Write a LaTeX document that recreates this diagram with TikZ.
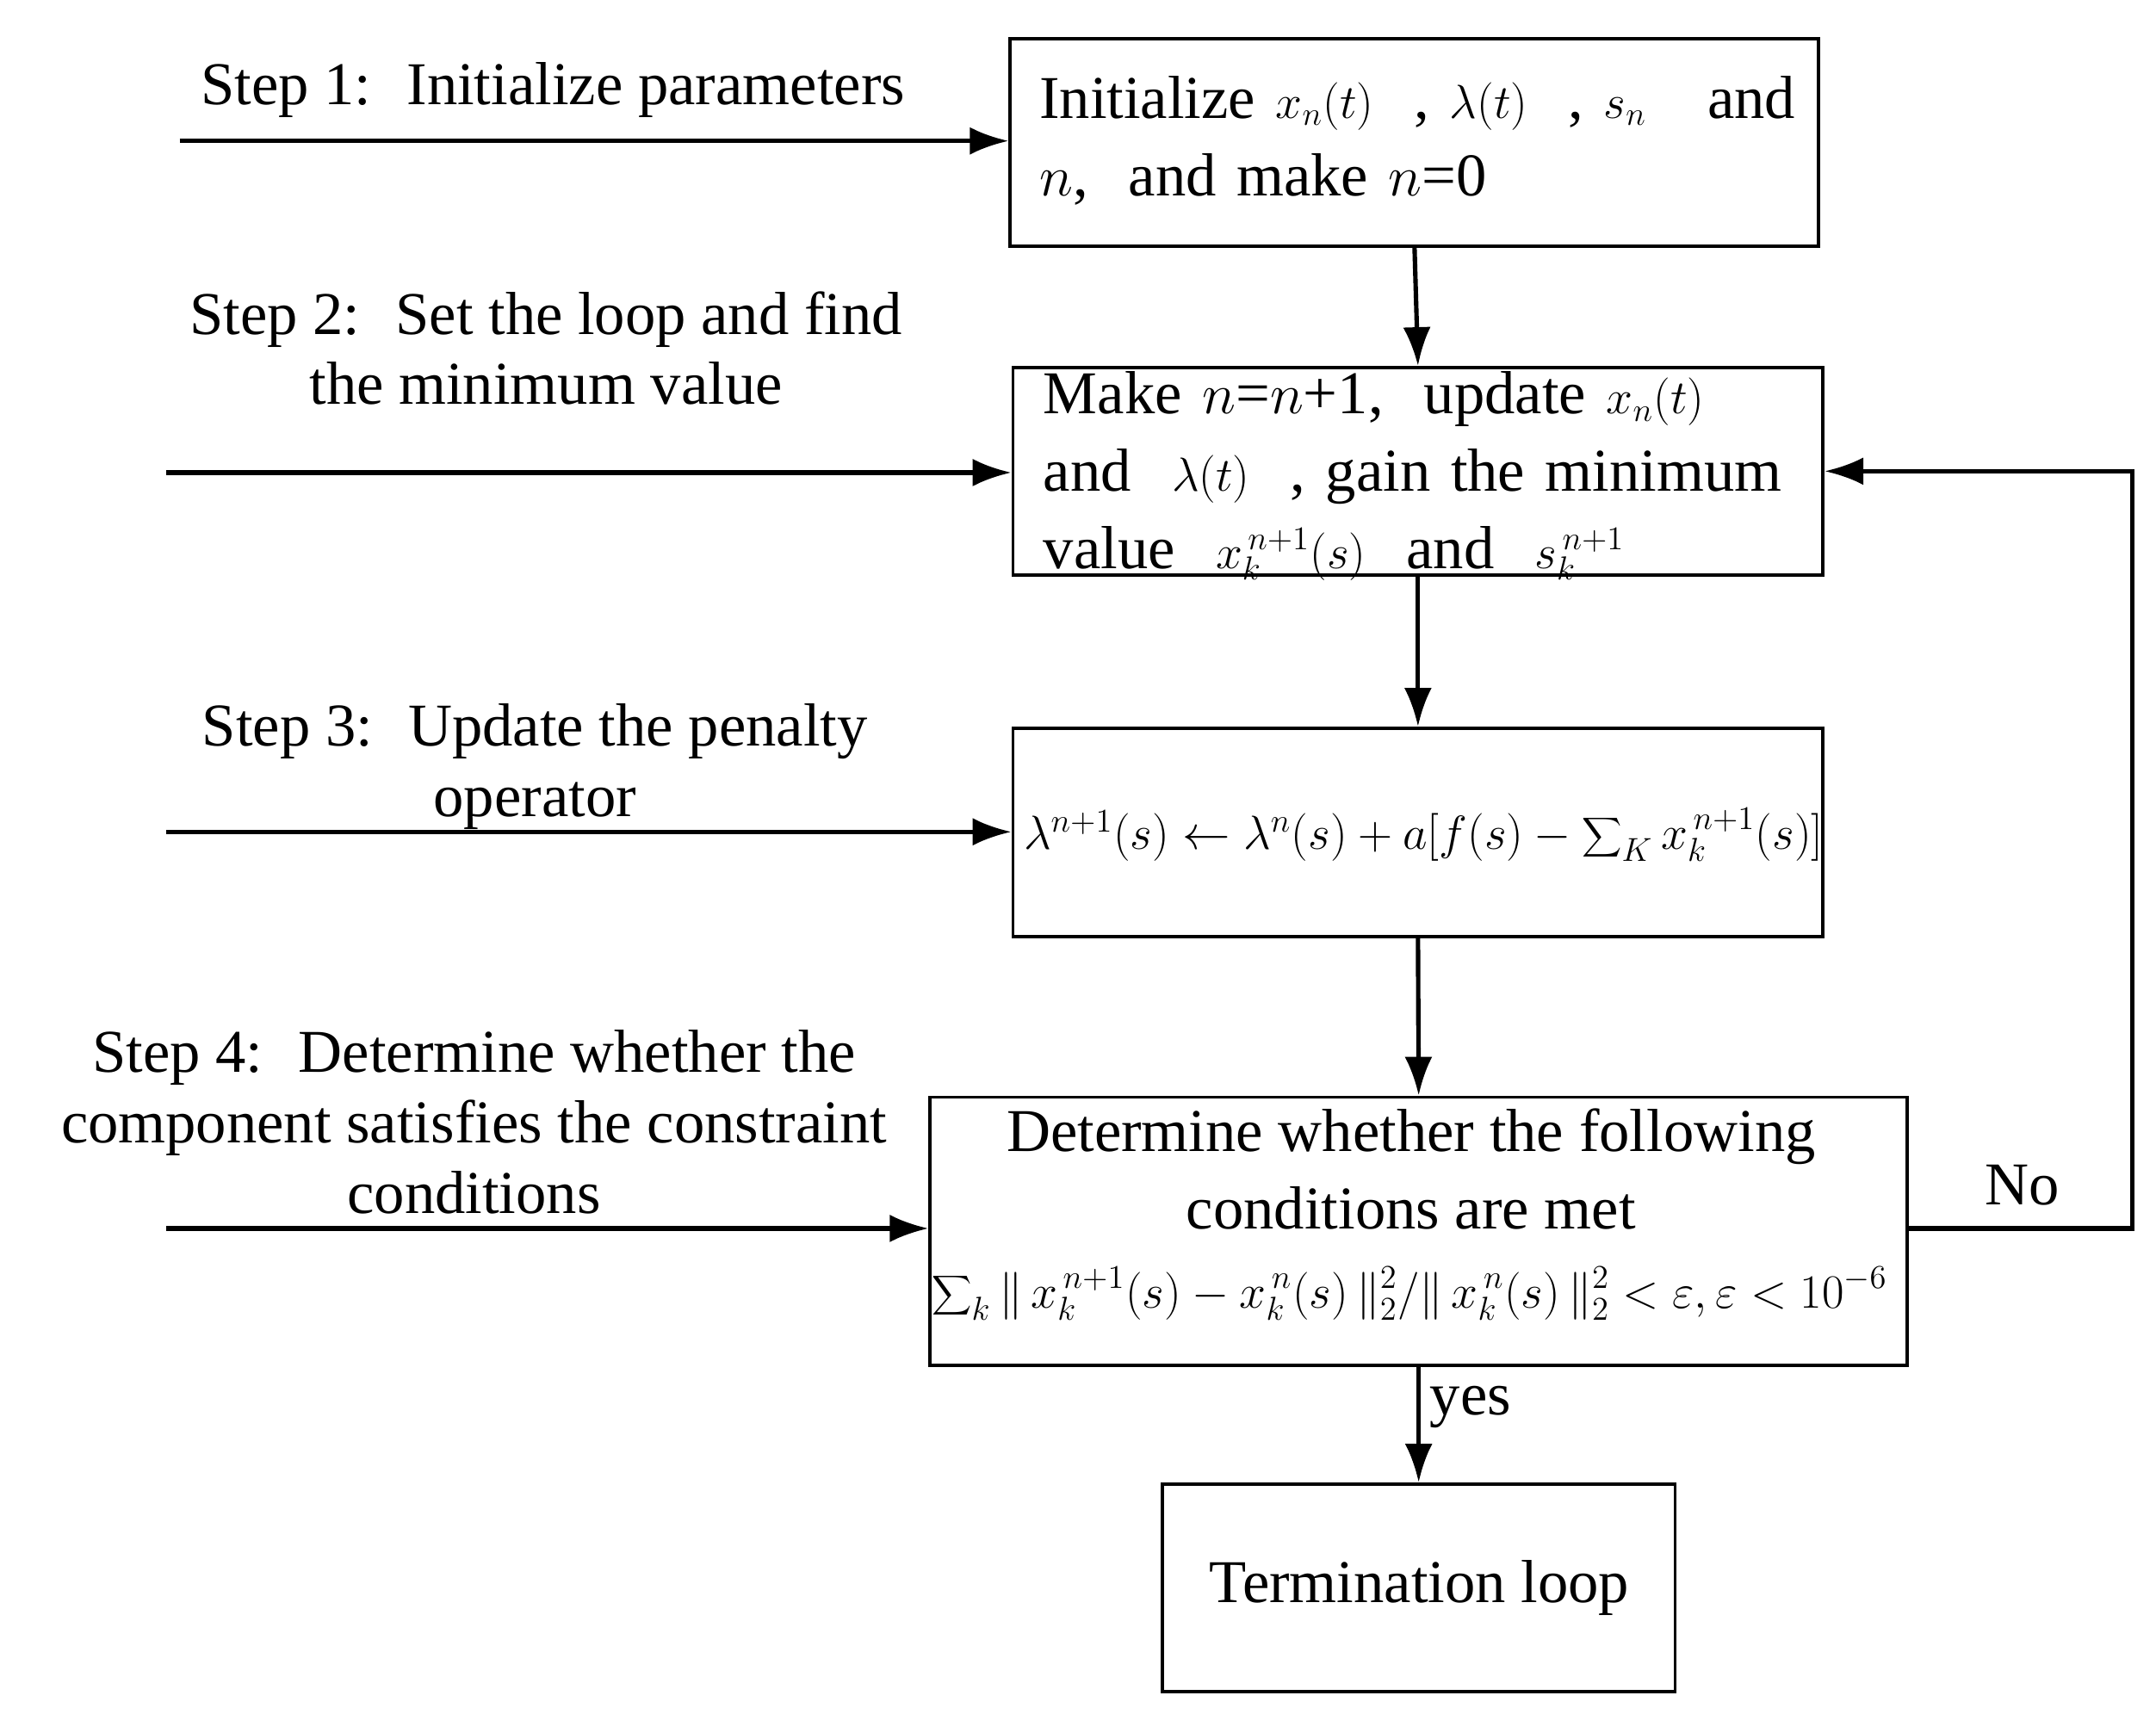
\documentclass[tikz,border=0pt]{standalone}
\usepackage{fontspec}
\setmainfont{Liberation Serif}
\usetikzlibrary{arrows.meta}
\newcommand{\smm}[1]{{\fontsize{18}{20}\selectfont$#1$}}
\begin{document}
\begin{tikzpicture}[x=0.5pt,y=-0.5pt,
  box/.style={draw,line width=1.2pt,inner sep=0pt},
  arr/.style={line width=1.6pt,-{Latex[length=14pt,width=10pt]}},
  lbl/.style={font=\fontsize{22}{25.5}\selectfont,align=center},
  txt/.style={font=\fontsize{22}{28}\selectfont},
  fml/.style={font=\fontsize{17}{20}\selectfont}]
\useasboundingbox (0,0) rectangle (1560,1240);
\node[box,minimum width=292.5pt,minimum height=75pt] (b1) at (1023.5,103) {};
\node[box,minimum width=293pt,minimum height=75pt] (b2) at (1026,341) {};
\node[box,minimum width=293pt,minimum height=75.5pt] (b3) at (1026,602.5) {};
\node[box,minimum width=353.5pt,minimum height=97pt] (b4) at (1026.5,891) {};
\node[box,minimum width=185.5pt,minimum height=75pt] (b5) at (1026.5,1149) {};
% texts
\node[txt,anchor=north west,text width=285pt,align=left] at (745,48)
 {Initialize \smm{x_n(t)} \ , \smm{\lambda(t)} \ , \smm{s_n} \ \ and\\ $n$, \ and make $n$=0};
\node[txt,anchor=north west,text width=290pt,align=left] at (748,262)
 {Make $n$=$n$+1, \ update \smm{x_n(t)}\\ and \ \smm{\lambda(t)} \ , gain the minimum\\ value \ \smm{x_k^{\,n+1}(s)} \ and \ \smm{s_k^{\,n+1}}};
\node[fml] at (1030,604) {$\lambda^{n+1}(s)\leftarrow\lambda^{n}(s)+a[f(s)-\displaystyle\sum\nolimits_K x_k^{\,n+1}(s)]$};
\node[txt,align=center] at (1021,846) {Determine whether the following\\ conditions are met};
\node[fml] at (1020,936) {$\displaystyle\sum\nolimits_k\|\,x_k^{\,n+1}(s)-x_k^{\,n}(s)\,\|_2^2/\|\,x_k^{\,n}(s)\,\|_2^2<\varepsilon,\varepsilon<10^{-6}$};
\node[txt] at (1027,1149) {Termination loop};
% step labels
\node[lbl] at (400,65) {Step 1: \ Initialize parameters};
\node[lbl] at (395,252) {Step 2: \ Set the loop and find\\ the minimum value};
\node[lbl] at (387,555) {Step 3: \ Update the penalty\\ operator};
\node[lbl] at (343,812) {Step 4: \ Determine whether the\\ component satisfies the constraint\\ conditions};
% left arrows
\coordinate (s1) at (130,102);
\coordinate (s2) at (120,342);
\coordinate (s3) at (120,602);
\coordinate (s4) at (120,889);
\draw[arr] (s1) -- (b1.west |- s1);
\draw[arr] (s2) -- (b2.west |- s2);
\draw[arr] (s3) -- (b3.west |- s3);
\draw[arr] (s4) -- (b4.west |- s4);
% vertical arrows
\draw[arr] (b1.south) -- (b2.north);
\draw[arr] (b2.south) -- (b3.north);
\draw[arr] (b3.south) -- (b4.north);
\draw[arr] (b4.south) -- node[txt,right,pos=0.35]{yes} (b5.north);
% feedback
\coordinate (c1) at (1543,889);
\coordinate (c2) at (1543,341);
\draw[arr] (b4.east |- c1) -- (c1) -- (c2) -- (b2.east);
\node[txt] at (1463,858) {No};
\end{tikzpicture}
\end{document}
